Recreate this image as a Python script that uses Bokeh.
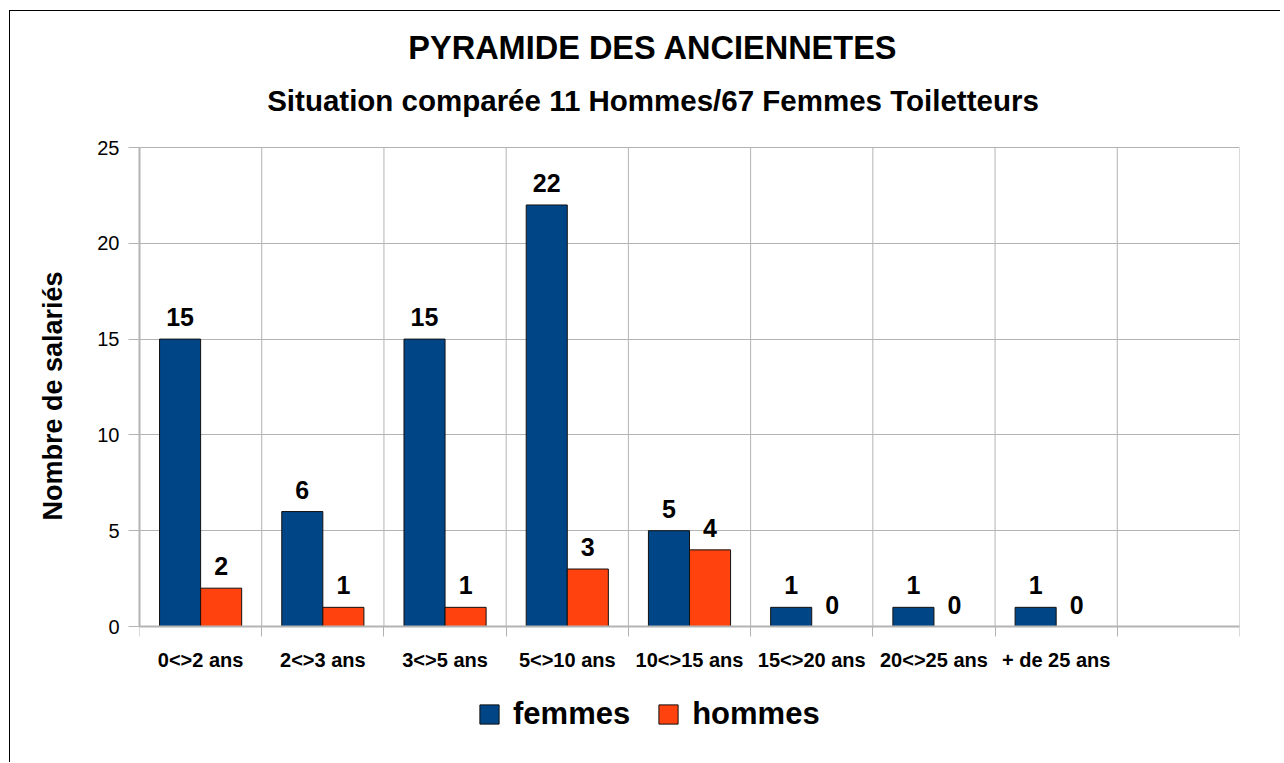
from bokeh.plotting import figure
from bokeh.models import (ColumnDataSource, FixedTicker, LabelSet, Label,
                          Legend, LegendItem)
from bokeh.embed import file_html
from bokeh.resources import INLINE
from bokeh.core.properties import value

# ---------------- data ----------------
categories = ["0<>2 ans", "2<>3 ans", "3<>5 ans", "5<>10 ans", "10<>15 ans",
              "15<>20 ans", "20<>25 ans", "+ de 25 ans", ""]
femmes = [15, 6, 15, 22, 5, 1, 1, 1]
hommes = [2, 1, 1, 3, 4, 0, 0, 0]
y_ticks = [0, 5, 10, 15, 20, 25]
series_names = ["femmes", "hommes"]
title_text = "PYRAMIDE DES ANCIENNETES"
subtitle_text = "Situation comparée 11 Hommes/67 Femmes Toiletteurs"
y_label_text = "Nombre de salariés"

# ---------------- style / layout ----------------
FONT = "Liberation Sans"
COL_F = "#004586"
COL_H = "#ff420e"
GRID = "#b3b3b3"

FL = 129                   # frame left on canvas
TOP_BORDER = 18            # canvas pixels above the frame
FW = 1100                  # frame width
ABOVE = 118                # frame pixels above value 25 (titles)
PLOT_H = 479               # pixels for the 0..25 value span
BELOW = 136                # frame pixels below value 0 (labels + legend)
BR = 41
BW = 0.336

n_slots = len(categories)
idx = list(range(len(femmes)))
px_y = PLOT_H / (y_ticks[-1] - y_ticks[0])
px_x = FW / n_slots
y_min = y_ticks[0] - BELOW / px_y
y_max = y_ticks[-1] + ABOVE / px_y

p = figure(frame_width=FW, frame_height=ABOVE + PLOT_H + BELOW,
           x_range=(-0.5, n_slots - 0.5), y_range=(y_min, y_max),
           output_backend="svg", toolbar_location=None,
           min_border_left=FL, min_border_right=BR,
           min_border_top=TOP_BORDER, min_border_bottom=0)
p.outline_line_color = None
p.background_fill_color = "white"
p.border_fill_color = "white"
p.styles = {"position": "relative", "left": "9px", "top": "10px",
            "border-left": "1px solid black", "border-top": "1px solid black"}

# vertical grid lines at category boundaries, limited to the value span
bounds_x = [i - 0.5 for i in range(n_slots + 1)]
p.segment(x0=bounds_x, x1=bounds_x, y0=[y_ticks[0]] * len(bounds_x),
          y1=[y_ticks[-1]] * len(bounds_x), line_color=GRID, line_width=1)
p.xgrid.visible = False
p.ygrid.grid_line_color = GRID
p.ygrid.bounds = (y_ticks[0], y_ticks[-1])

src_f = ColumnDataSource(dict(x=[i - BW / 2 for i in idx], top=femmes,
                              t=[str(v) for v in femmes]))
src_h = ColumnDataSource(dict(x=[i + BW / 2 for i in idx], top=hommes,
                              t=[str(v) for v in hommes]))

rf = p.vbar(x="x", top="top", width=BW, bottom=0, source=src_f,
            fill_color=COL_F, line_color="#111111", line_width=1)
rh = p.vbar(x="x", top="top", width=BW, bottom=0, source=src_h,
            fill_color=COL_H, line_color="#111111", line_width=1)

for s in (src_f, src_h):
    p.add_layout(LabelSet(x="x", y="top", text="t", source=s,
                          y_offset=13, text_align="center",
                          text_baseline="alphabetic",
                          text_font=value(FONT), text_font_size="25px",
                          text_font_style="bold", text_color="black"))

# x axis drawn at value 0: labels at slot centres, ticks at slot boundaries
xa = p.xaxis[0]
xa.fixed_location = 0
xa.ticker = FixedTicker(ticks=list(range(n_slots)), minor_ticks=bounds_x)
xa.major_label_overrides = {i: c for i, c in enumerate(categories)}
xa.major_tick_out = 0
xa.major_tick_in = 0
xa.major_tick_line_color = None
xa.minor_tick_out = 10
xa.minor_tick_in = 0
xa.minor_tick_line_color = GRID
xa.axis_line_color = GRID
xa.axis_line_width = 2
xa.major_label_standoff = 12
xa.major_label_text_font = FONT
xa.major_label_text_font_size = "20px"
xa.major_label_text_font_style = "bold"
xa.major_label_text_color = "black"

ya = p.yaxis[0]
ya.bounds = (y_ticks[0], y_ticks[-1])
ya.ticker = FixedTicker(ticks=y_ticks)
ya.major_tick_out = 11
ya.major_tick_in = 0
ya.major_tick_line_color = GRID
ya.minor_tick_line_color = None
ya.axis_line_color = GRID
ya.axis_line_width = 2
ya.major_label_standoff = 9
ya.major_label_text_font = FONT
ya.major_label_text_font_size = "20px"
ya.major_label_text_color = "black"
ya.axis_label = y_label_text
ya.axis_label_standoff = 26
ya.axis_label_text_font = FONT
ya.axis_label_text_font_size = "27px"
ya.axis_label_text_font_style = "bold"
ya.axis_label_text_color = "black"

# titles inside the (extended) frame, centred over the chart area
title_cx = -0.5 + 513.5 / px_x
p.add_layout(Label(x=title_cx, y=y_ticks[-1] + 99.3 / px_y, text=title_text,
                   text_align="center", text_baseline="alphabetic",
                   text_font=FONT, text_font_size="32.5px",
                   text_font_style="bold", text_color="black"))
p.add_layout(Label(x=title_cx, y=y_ticks[-1] + 46.7 / px_y, text=subtitle_text,
                   text_align="center", text_baseline="alphabetic",
                   text_font=FONT, text_font_size="29.5px",
                   text_font_style="bold", text_color="black"))

legend = Legend(items=[LegendItem(label=series_names[0], renderers=[rf]),
                       LegendItem(label=series_names[1], renderers=[rh])],
                orientation="horizontal", location=(338, 30),
                glyph_width=24, glyph_height=24, label_standoff=12, spacing=26,
                padding=0, margin=0, border_line_color=None,
                background_fill_alpha=0,
                label_text_font=FONT, label_text_font_size="31px",
                label_text_font_style="bold", label_text_color="black")
p.add_layout(legend, "center")

open("out.html", "w").write(file_html(p, INLINE))
